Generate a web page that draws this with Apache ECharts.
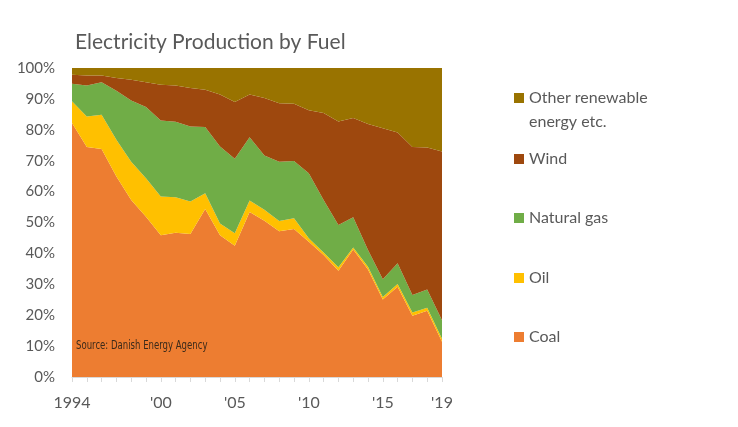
<!DOCTYPE html>
<html>
<head>
<meta charset="utf-8">
<script src="https://cdn.jsdelivr.net/npm/echarts@6/dist/echarts.min.js"></script>
<style>html,body{margin:0;padding:0;background:#fff}#c{width:738px;height:427px}</style>
</head>
<body>
<div id="c"></div>
<script>
var years = ['1994','1995','1996','1997','1998','1999','2000','2001','2002','2003','2004','2005','2006','2007','2008','2009','2010','2011','2012','2013','2014','2015','2016','2017','2018','2019'];
var tickLabels = {'1994':'1994','2000':"'00",'2005':"'05",'2010':"'10",'2015':"'15",'2019':"'19"};
var coal  = [82.2,74.4,73.8,64.9,57.3,51.9,45.9,46.7,46.3,54.4,45.9,42.5,53.4,50.6,47.2,47.9,43.8,39.5,34.4,41.3,34.8,25.1,29.2,19.8,21.4,11.4];
var oil   = [7.0,9.9,11.1,11.9,12.4,12.4,12.5,11.5,10.5,5.1,3.8,4.0,3.7,3.5,3.3,3.5,1.1,0.8,1.1,0.6,0.9,0.8,0.9,1.1,1.0,1.0];
var gas   = [5.7,10.0,10.5,15.8,19.8,23.1,24.6,24.4,24.3,21.4,24.9,24.1,20.5,17.6,19.2,18.5,21.0,17.0,13.7,9.8,5.4,5.7,6.7,5.6,5.9,6.0];
var wind  = [2.9,3.3,2.2,4.2,6.7,8.0,11.6,11.7,12.4,12.1,16.8,18.4,13.8,18.6,18.9,18.5,20.4,28.1,33.5,32.1,40.8,48.9,42.3,47.9,46.0,54.6];
var other = [2.2,2.4,2.4,3.2,3.8,4.6,5.4,5.7,6.5,7.0,8.6,11.0,8.6,9.7,11.4,11.6,13.7,14.6,17.3,16.2,18.1,19.5,20.9,25.6,25.7,27.0];

var names = ['Coal','Oil','Natural gas','Wind','Other renewable energy etc.'];
var colors = ['#ED7D31','#FFC000','#70AD47','#9E480E','#997300'];
var values = [coal, oil, gas, wind, other];
var FONT = 'Lato, "Open Sans", sans-serif';
var TXT = '#595959';

var series = names.map(function(n,i){
  return {
    name: n, type: 'line', stack: 'total', data: values[i],
    symbol: 'none', smooth: false,
    lineStyle: {width: 0},
    areaStyle: {color: colors[i], opacity: 1},
    itemStyle: {color: colors[i]},
    emphasis: {disabled: true}
  };
});

var legendTops = [324, 265, 205, 146, 57];
var legends = names.map(function(n,i){
  var isOther = (i === 4);
  return {
    show: true, orient: 'vertical', left: 509, top: legendTops[i],
    data: [n], icon: 'rect', itemWidth: 10, itemHeight: 10, itemGap: 0,
    selectedMode: false,
    formatter: isOther ? function(){ return ' \nOther renewable\nenergy etc.'; } : undefined,
    textStyle: isOther ? {color: TXT, fontSize: 16, fontFamily: FONT, lineHeight: 24}
                       : {color: TXT, fontSize: 16, fontFamily: FONT}
  };
});

var chart = echarts.init(document.getElementById('c'), null, {renderer: 'canvas'});
chart.setOption({
  animation: false,
  backgroundColor: '#fff',
  title: {
    text: 'Electricity Production by Fuel', left: 70, top: 27,
    textStyle: {color: TXT, fontSize: 21, fontWeight: 'normal', fontFamily: FONT}
  },
  grid: {left: 72, right: 296, top: 68, bottom: 50, containLabel: false},
  legend: legends,
  xAxis: {
    type: 'category', data: years, boundaryGap: false,
    axisLine: {show: true, lineStyle: {color: '#D9D9D9', width: 1}},
    axisTick: {show: true, length: 5, interval: 0, lineStyle: {color: '#D9D9D9'}},
    axisLabel: {
      interval: 0, margin: 18, color: TXT, fontSize: 16, fontFamily: FONT,
      formatter: function(v){ return tickLabels[v] || ''; }
    },
    splitLine: {show: false}
  },
  yAxis: {
    type: 'value', min: 0, max: 100, interval: 10,
    axisLine: {show: false}, axisTick: {show: false}, splitLine: {show: false},
    axisLabel: {color: TXT, fontSize: 15, fontFamily: FONT, margin: 17, padding: [4,0,0,0],
      formatter: function(v){ return v + '%'; }}
  },
  graphic: [{
    type: 'text', left: 76, top: 339, silent: true, z: 100, scaleX: 0.76,
    style: {text: 'Source: Danish Energy Agency', fill: '#3B2A1A', fontSize: 12.5, fontFamily: '"Liberation Sans Narrow", "DejaVu Sans Condensed", sans-serif'}
  }],
  series: series
});
</script>
</body>
</html>
